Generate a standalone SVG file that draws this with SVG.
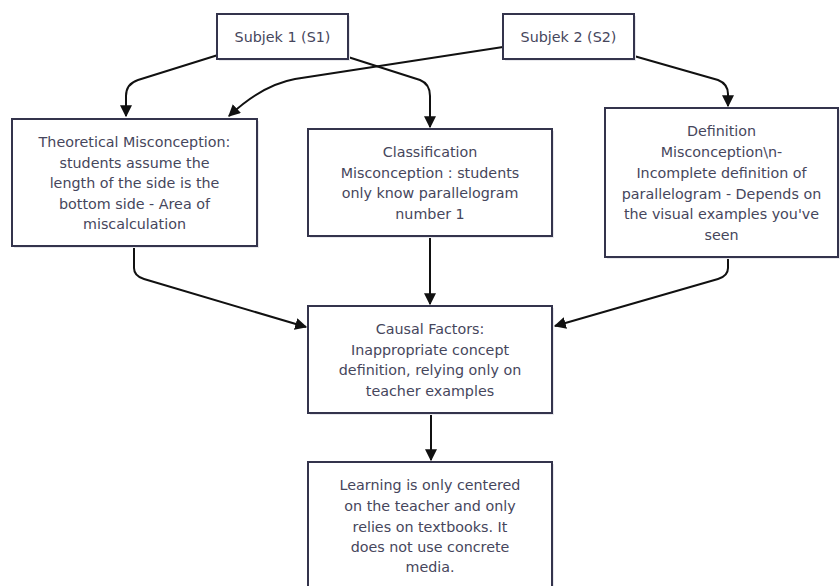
<svg xmlns="http://www.w3.org/2000/svg" width="840" height="586" viewBox="0 0 840 586">
<style>
.box{fill:#fff;stroke:#34344c;stroke-width:2}
.sh{fill:#e8e8ec}
.t{font-family:"DejaVu Sans","Noto Sans",sans-serif;font-size:14.3px;fill:#46465c;text-anchor:middle}
.c{fill:none;stroke:#111;stroke-width:2;marker-end:url(#ah)}
</style>
<defs>
<marker id="ah" viewBox="0 0 10 10" refX="9" refY="5" markerWidth="12" markerHeight="12" markerUnits="userSpaceOnUse" orient="auto">
<path d="M0,0 L10,5 L0,10 z" fill="#111"/>
</marker>
</defs>
<rect width="840" height="586" fill="#fff"/>
<g id="connectors">
<path class="c" d="M218,55 L138,80 Q126,84 126,96 L126,116"/>
<path class="c" d="M348,57 L420,80 Q430,84 430,96 L430,127"/>
<path class="c" d="M503,47 L295,79 Q262,85 229,116"/>
<path class="c" d="M634,56 L718,80 Q728,84 728,94 L728,106"/>
<path class="c" d="M134,246 L134,268 Q134,276 144,279 L306,327"/>
<path class="c" d="M728,257 L728,268 Q728,276 718,279 L555,326"/>
<path class="c" d="M430,236 L430,304"/>
<path class="c" d="M431,413 L431,460"/>
</g>
<g id="s1">
<rect class="sh" x="219" y="16" width="131" height="45"/>
<rect class="box" x="217" y="14" width="131" height="45"/>
<text class="t" x="282.5" y="42">Subjek 1 (S1)</text>
</g>
<g id="s2">
<rect class="sh" x="505" y="16" width="131" height="45"/>
<rect class="box" x="503" y="14" width="131" height="45"/>
<text class="t" x="568.5" y="42">Subjek 2 (S2)</text>
</g>
<g id="theoretical">
<rect class="sh" x="14" y="121" width="245" height="127"/>
<rect class="box" x="12" y="119" width="245" height="127"/>
<text class="t"><tspan x="134.5" y="147">Theoretical Misconception:</tspan><tspan x="134.5" y="167.5">students assume the</tspan><tspan x="134.5" y="188">length of the side is the</tspan><tspan x="134.5" y="208.5">bottom side - Area of</tspan><tspan x="134.5" y="229">miscalculation</tspan></text>
</g>
<g id="classification">
<rect class="sh" x="310" y="131" width="244" height="107"/>
<rect class="box" x="308" y="129" width="244" height="107"/>
<text class="t"><tspan x="430" y="157">Classification</tspan><tspan x="430" y="177.5">Misconception : students</tspan><tspan x="430" y="198">only know parallelogram</tspan><tspan x="430" y="218.5">number 1</tspan></text>
</g>
<g id="definition">
<rect class="sh" x="607" y="110" width="233" height="149"/>
<rect class="box" x="605" y="108" width="233" height="149"/>
<text class="t"><tspan x="721.5" y="136">Definition</tspan><tspan x="721.5" y="157">Misconception\n-</tspan><tspan x="721.5" y="178">Incomplete definition of</tspan><tspan x="721.5" y="198.5">parallelogram - Depends on</tspan><tspan x="721.5" y="219">the visual examples you've</tspan><tspan x="721.5" y="240">seen</tspan></text>
</g>
<g id="causal">
<rect class="sh" x="310" y="308" width="244" height="107"/>
<rect class="box" x="308" y="306" width="244" height="107"/>
<text class="t"><tspan x="430" y="334">Causal Factors:</tspan><tspan x="430" y="354.5">Inappropriate concept</tspan><tspan x="430" y="375">definition, relying only on</tspan><tspan x="430" y="395.5">teacher examples</tspan></text>
</g>
<g id="learning">
<rect class="sh" x="310" y="464" width="244" height="130"/>
<rect class="box" x="308" y="462" width="244" height="130"/>
<text class="t"><tspan x="430" y="490">Learning is only centered</tspan><tspan x="430" y="511">on the teacher and only</tspan><tspan x="430" y="532">relies on textbooks. It</tspan><tspan x="430" y="552">does not use concrete</tspan><tspan x="430" y="572">media.</tspan></text>
</g>
</svg>
